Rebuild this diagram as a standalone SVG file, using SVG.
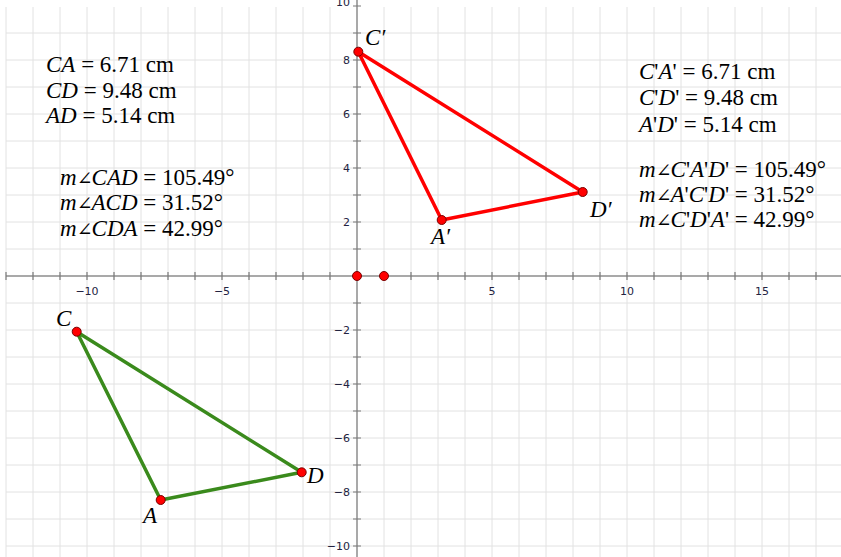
<svg xmlns="http://www.w3.org/2000/svg" width="841" height="557" viewBox="0 0 841 557">
<style>
.grid line{stroke:#e2e2e2;stroke-width:1}
.axis{stroke:#8c8c8c;stroke-width:1.5}
.tick{stroke:#7a7a7a;stroke-width:1.2}
.al{font-family:"DejaVu Sans","Liberation Sans",sans-serif;font-size:11px;fill:#23233f}
.t{font-family:"Liberation Serif","DejaVu Serif",serif;font-size:23px;fill:#000}
.i{font-style:italic}
.ang{font-size:19px;letter-spacing:-1px}
.pt{fill:#ff0000;stroke:#7a0000;stroke-width:1}
.red{fill:none;stroke:#ff0000;stroke-width:3.5;stroke-linejoin:round}
.green{fill:none;stroke:#3a8a1c;stroke-width:3.5;stroke-linejoin:round}
</style>
<rect width="841" height="557" fill="#fff"/>
<g class="grid">
<line x1="6" y1="7" x2="6" y2="557"/><line x1="33" y1="7" x2="33" y2="557"/><line x1="60" y1="7" x2="60" y2="557"/><line x1="87" y1="7" x2="87" y2="557"/><line x1="114" y1="7" x2="114" y2="557"/><line x1="141" y1="7" x2="141" y2="557"/><line x1="168" y1="7" x2="168" y2="557"/><line x1="195" y1="7" x2="195" y2="557"/><line x1="222" y1="7" x2="222" y2="557"/><line x1="249" y1="7" x2="249" y2="557"/><line x1="276" y1="7" x2="276" y2="557"/><line x1="303" y1="7" x2="303" y2="557"/><line x1="330" y1="7" x2="330" y2="557"/><line x1="384" y1="7" x2="384" y2="557"/><line x1="411" y1="7" x2="411" y2="557"/><line x1="438" y1="7" x2="438" y2="557"/><line x1="465" y1="7" x2="465" y2="557"/><line x1="492" y1="7" x2="492" y2="557"/><line x1="519" y1="7" x2="519" y2="557"/><line x1="546" y1="7" x2="546" y2="557"/><line x1="573" y1="7" x2="573" y2="557"/><line x1="600" y1="7" x2="600" y2="557"/><line x1="627" y1="7" x2="627" y2="557"/><line x1="654" y1="7" x2="654" y2="557"/><line x1="681" y1="7" x2="681" y2="557"/><line x1="708" y1="7" x2="708" y2="557"/><line x1="735" y1="7" x2="735" y2="557"/><line x1="762" y1="7" x2="762" y2="557"/><line x1="789" y1="7" x2="789" y2="557"/><line x1="816" y1="7" x2="816" y2="557"/>
<line x1="6" y1="33" x2="841" y2="33"/><line x1="6" y1="60" x2="841" y2="60"/><line x1="6" y1="87" x2="841" y2="87"/><line x1="6" y1="114" x2="841" y2="114"/><line x1="6" y1="141" x2="841" y2="141"/><line x1="6" y1="168" x2="841" y2="168"/><line x1="6" y1="195" x2="841" y2="195"/><line x1="6" y1="222" x2="841" y2="222"/><line x1="6" y1="249" x2="841" y2="249"/><line x1="6" y1="303" x2="841" y2="303"/><line x1="6" y1="330" x2="841" y2="330"/><line x1="6" y1="357" x2="841" y2="357"/><line x1="6" y1="384" x2="841" y2="384"/><line x1="6" y1="411" x2="841" y2="411"/><line x1="6" y1="438" x2="841" y2="438"/><line x1="6" y1="465" x2="841" y2="465"/><line x1="6" y1="492" x2="841" y2="492"/><line x1="6" y1="519" x2="841" y2="519"/><line x1="6" y1="546" x2="841" y2="546"/>
</g>
<g id="axes">
<line class="axis" x1="6" y1="276" x2="841" y2="276"/>
<line class="axis" x1="357" y1="0" x2="357" y2="557"/>
<path class="tick" d="M6 272v8M33 272v8M60 272v8M87 272v8M114 272v8M141 272v8M168 272v8M195 272v8M222 272v8M249 272v8M276 272v8M303 272v8M330 272v8M384 272v8M411 272v8M438 272v8M465 272v8M492 272v8M519 272v8M546 272v8M573 272v8M600 272v8M627 272v8M654 272v8M681 272v8M708 272v8M735 272v8M762 272v8M789 272v8M816 272v8"/>
<path class="tick" d="M353 6h8M353 33h8M353 60h8M353 87h8M353 114h8M353 141h8M353 168h8M353 195h8M353 222h8M353 249h8M353 303h8M353 330h8M353 357h8M353 384h8M353 411h8M353 438h8M353 465h8M353 492h8M353 519h8M353 546h8"/>
<g class="al" text-anchor="middle">
<text x="87" y="295">−10</text><text x="222" y="295">−5</text><text x="492" y="295">5</text><text x="627" y="295">10</text><text x="762" y="295">15</text>
</g>
<g class="al" text-anchor="end">
<text x="350" y="6">10</text><text x="350" y="64">8</text><text x="350" y="118">6</text><text x="350" y="172">4</text><text x="350" y="226">2</text>
<text x="350" y="334">−2</text><text x="350" y="388">−4</text><text x="350" y="442">−6</text><text x="350" y="496">−8</text><text x="350" y="550">−10</text>
</g>
</g>
<g id="connectors">
<polygon class="red" points="358.3,51.7 441.7,220 582.7,192"/>
<polygon class="green" points="76.7,331.7 160.7,500 301.7,472.3"/>
</g>
<g id="origin-points">
<circle class="pt" cx="357" cy="276" r="4.5"/>
<circle class="pt" cx="384" cy="276" r="4.5"/>
</g>
<g id="node-C1">
<circle class="pt" cx="358.3" cy="51.7" r="4.5"/>
<text class="t i" x="365" y="45">C′</text>
</g>
<g id="node-A1">
<circle class="pt" cx="441.7" cy="220" r="4.5"/>
<text class="t i" x="431" y="244">A′</text>
</g>
<g id="node-D1">
<circle class="pt" cx="582.7" cy="192" r="4.5"/>
<text class="t i" x="590" y="217">D′</text>
</g>
<g id="node-C">
<circle class="pt" cx="76.7" cy="331.7" r="4.5"/>
<text class="t i" x="56" y="326">C</text>
</g>
<g id="node-A">
<circle class="pt" cx="160.7" cy="500" r="4.5"/>
<text class="t i" x="143" y="523">A</text>
</g>
<g id="node-D">
<circle class="pt" cx="301.7" cy="472.3" r="4.5"/>
<text class="t i" x="307" y="483">D</text>
</g>
<g id="measures-left" class="t">
<text x="46" y="72"><tspan class="i">CA</tspan> = 6.71 cm</text>
<text x="46" y="97.5"><tspan class="i">CD</tspan> = 9.48 cm</text>
<text x="46" y="123"><tspan class="i">AD</tspan> = 5.14 cm</text>
<text x="60" y="185"><tspan class="i">m<tspan class="ang">∠</tspan>CAD</tspan> = 105.49°</text>
<text x="60" y="210"><tspan class="i">m<tspan class="ang">∠</tspan>ACD</tspan> = 31.52°</text>
<text x="60" y="236"><tspan class="i">m<tspan class="ang">∠</tspan>CDA</tspan> = 42.99°</text>
</g>
<g id="measures-right" class="t">
<text x="639" y="79"><tspan class="i">C</tspan>'<tspan class="i">A</tspan>' = 6.71 cm</text>
<text x="639" y="105"><tspan class="i">C</tspan>'<tspan class="i">D</tspan>' = 9.48 cm</text>
<text x="639" y="132"><tspan class="i">A</tspan>'<tspan class="i">D</tspan>' = 5.14 cm</text>
<text x="639" y="177"><tspan class="i">m<tspan class="ang">∠</tspan>C</tspan>'<tspan class="i">A</tspan>'<tspan class="i">D</tspan>' = 105.49°</text>
<text x="639" y="202"><tspan class="i">m<tspan class="ang">∠</tspan>A</tspan>'<tspan class="i">C</tspan>'<tspan class="i">D</tspan>' = 31.52°</text>
<text x="639" y="227"><tspan class="i">m<tspan class="ang">∠</tspan>C</tspan>'<tspan class="i">D</tspan>'<tspan class="i">A</tspan>' = 42.99°</text>
</g>
</svg>
